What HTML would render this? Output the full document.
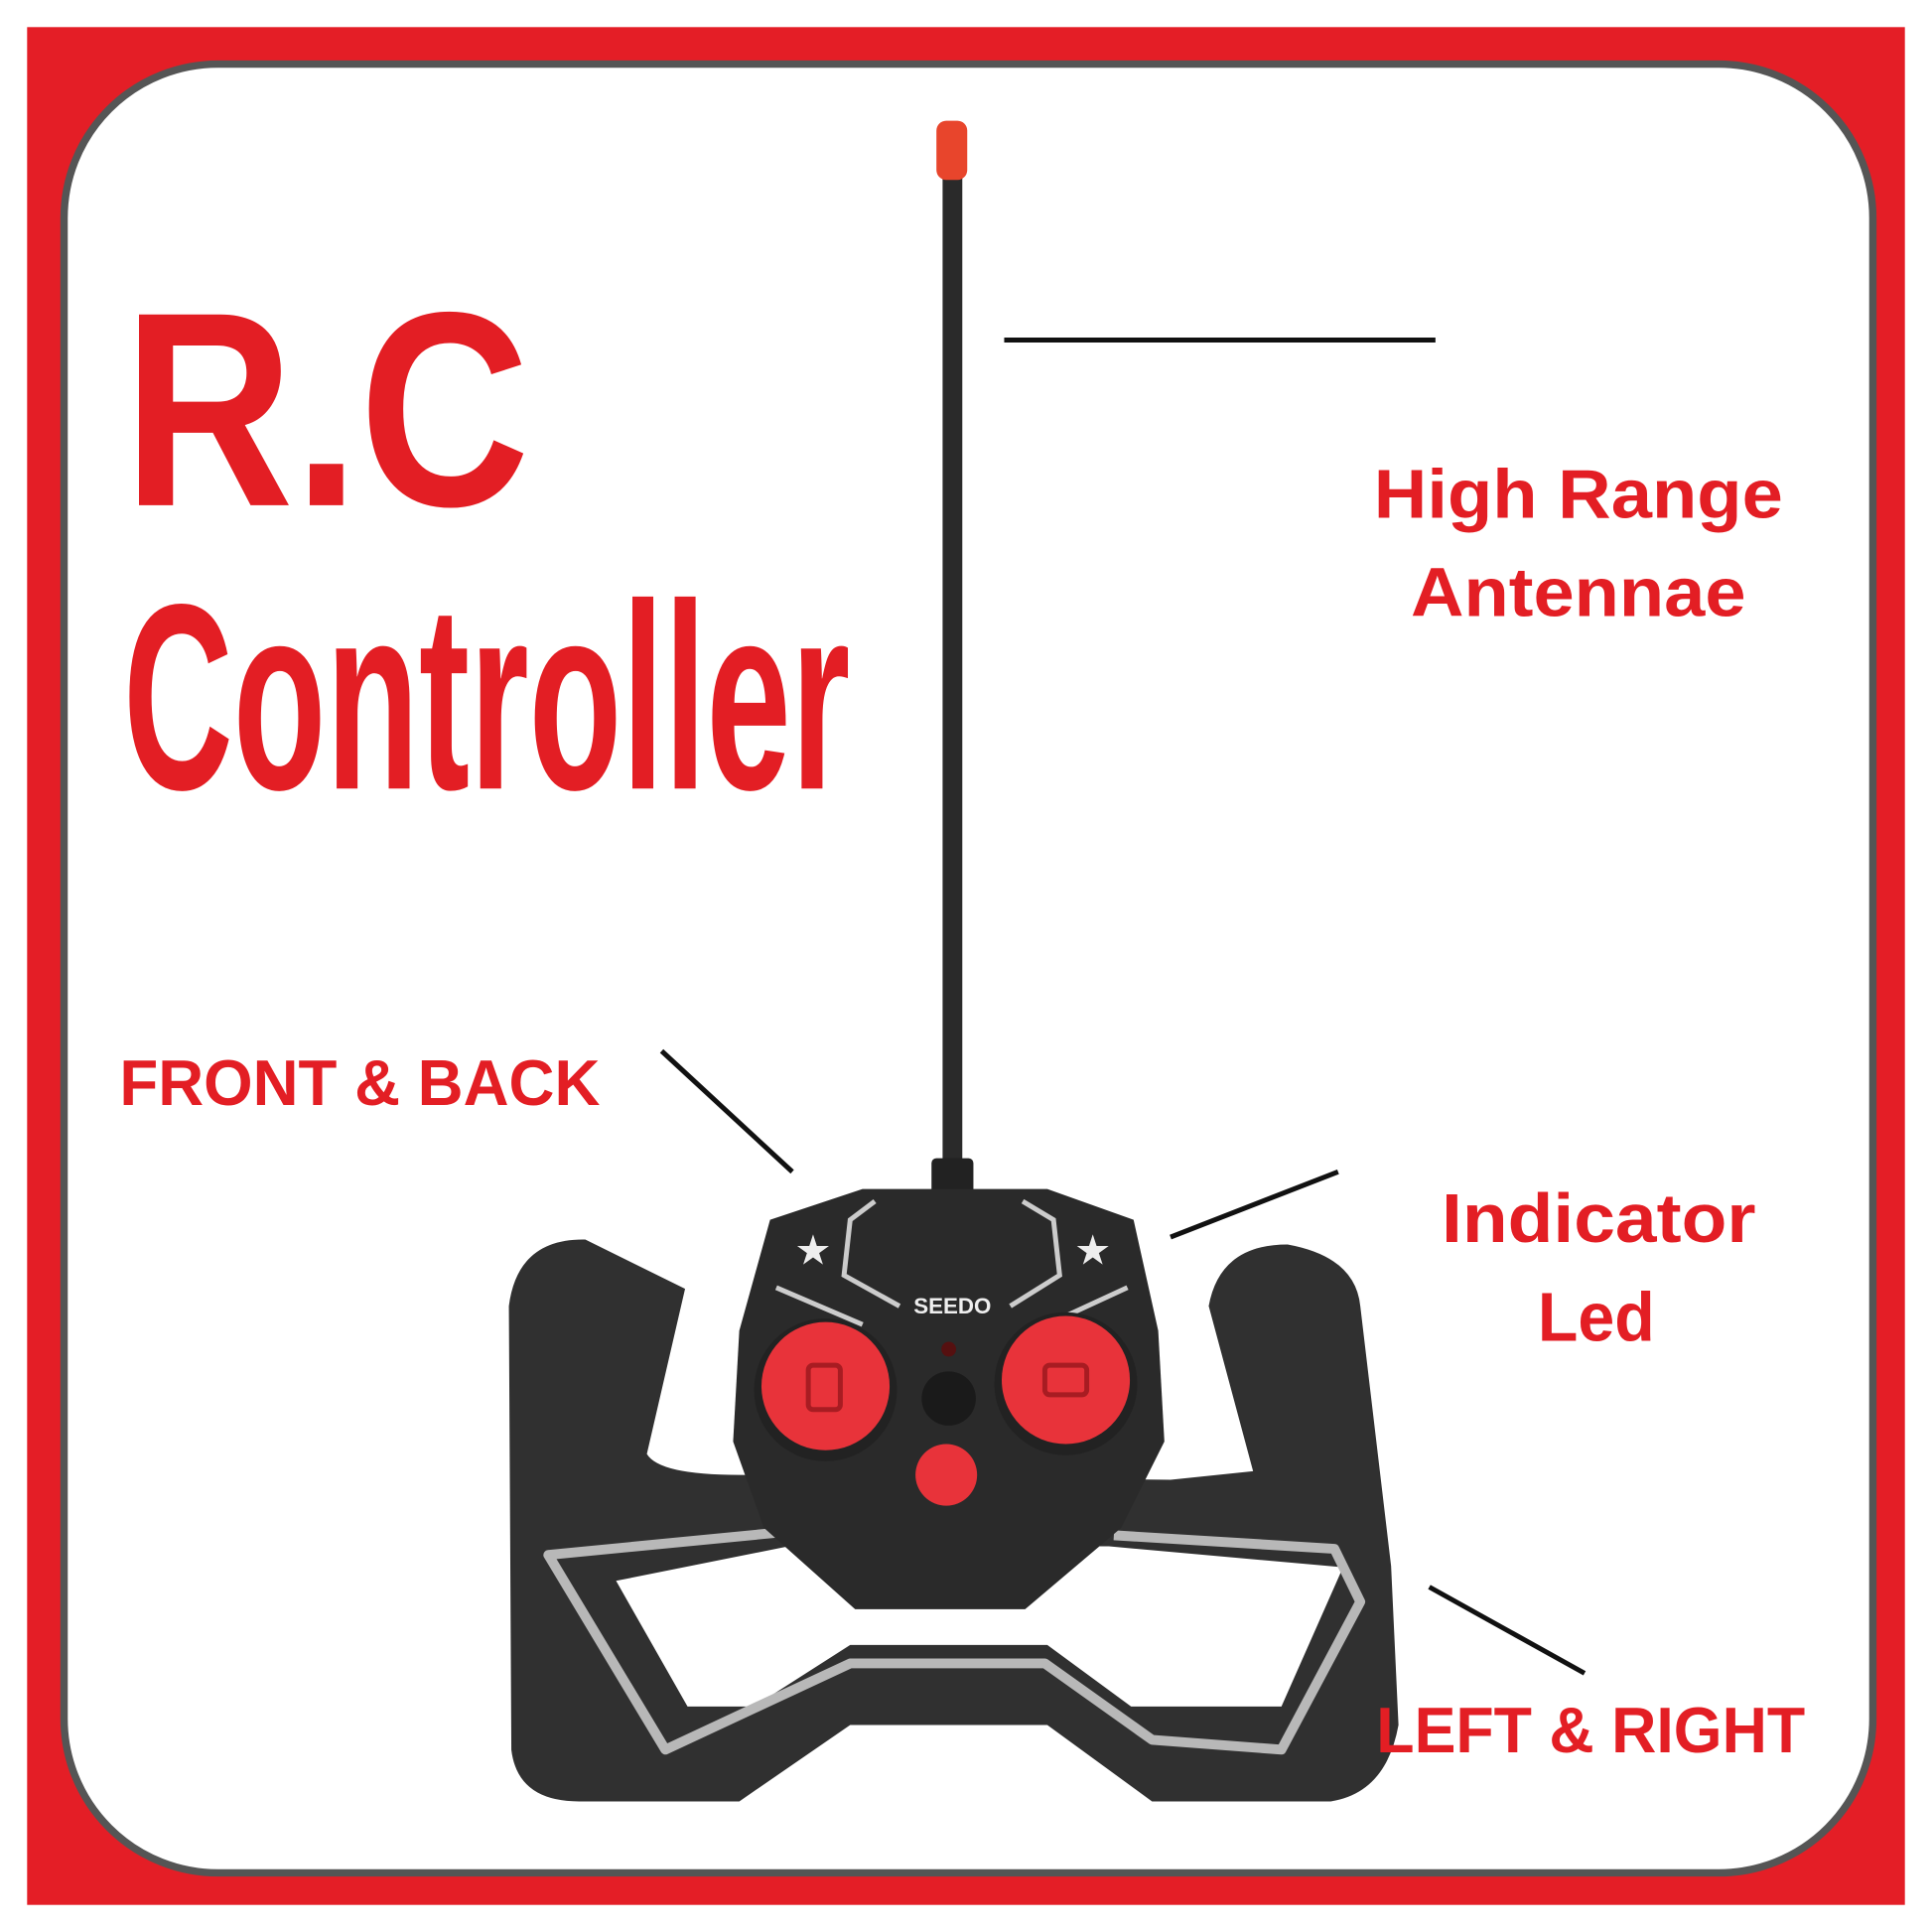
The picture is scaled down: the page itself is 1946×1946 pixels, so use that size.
<!DOCTYPE html>
<html><head><meta charset="utf-8"><style>
html,body{margin:0;padding:0;background:#fff;}
svg{display:block;}
text{font-family:"Liberation Sans",sans-serif;font-weight:bold;fill:#e31e24;}
</style></head><body>
<svg width="1946" height="1946" viewBox="0 0 1568 1568" xmlns="http://www.w3.org/2000/svg">
<rect x="0" y="0" width="1568" height="1568" fill="#fff"/>
<rect x="22" y="22" width="1524" height="1524" fill="#e41e26"/>
<rect x="52" y="52" width="1468" height="1468" rx="125" fill="#fff" stroke="#555" stroke-width="6"/>

<g stroke="#111" stroke-width="4">
<line x1="815" y1="276" x2="1165" y2="276"/>
<line x1="537" y1="853" x2="643" y2="951"/>
<line x1="950" y1="1004" x2="1086" y2="951"/>
<line x1="1160" y1="1288" x2="1286" y2="1358"/>
</g>

<!-- antenna -->
<rect x="765" y="140" width="16" height="810" fill="#2a2a2a"/>
<rect x="760" y="98" width="25" height="48" rx="8" fill="#e8452c"/>
<rect x="756" y="940" width="34" height="30" rx="4" fill="#222"/>

<!-- grips + arms + frame -->
<path fill-rule="evenodd" fill="#303030" d="M413,1060 Q420,1005 475,1006 L556,1046 L525,1180 Q535,1197 600,1197 L950,1201 L1017,1194 L981,1060 Q990,1010 1045,1010 Q1100,1020 1104,1060 L1129,1271 L1135,1400 Q1125,1455 1080,1462 L935,1462 L850,1400 L690,1400 L600,1462 L470,1462 Q420,1462 415,1420 Z M500,1283 L558,1385 L612,1385 L690,1335 L850,1335 L918,1385 L1040,1385 L1090,1272 L900,1255 L640,1255 Z"/>
<path fill="none" stroke="#b8b8b8" stroke-width="8" stroke-linejoin="round" d="M640,1243 L445,1262 L540,1420 L690,1350 L848,1350 L935,1412 L1040,1420 L1104,1300 L1083,1257 L904,1246"/>

<!-- body -->
<path fill="#2a2a2a" d="M625,990 L700,965 L850,965 L920,990 L940,1080 L945,1170 L910,1240 L832,1306 L694,1306 L620,1240 L595,1170 L600,1080 Z"/>
<path fill="none" stroke="#ccc" stroke-width="4" d="M710,975 L690,990 L685,1035 L730,1060 M830,975 L855,990 L860,1035 L820,1060 M630,1045 L700,1075 M915,1045 L850,1075"/>
<text x="773" y="1066" font-size="18" text-anchor="middle" style="fill:#eee">SEEDO</text>
<text x="660" y="1025" font-size="30" text-anchor="middle" style="fill:#eee">★</text>
<text x="887" y="1025" font-size="30" text-anchor="middle" style="fill:#eee">★</text>
<circle cx="770" cy="1095" r="6" fill="#551010"/>
<circle cx="670" cy="1128" r="58" fill="#222"/>
<circle cx="670" cy="1125" r="52" fill="#e8333a"/>
<rect x="656" y="1108" width="26" height="36" rx="4" fill="none" stroke="#a81c22" stroke-width="4"/>
<circle cx="865" cy="1123" r="58" fill="#222"/>
<circle cx="865" cy="1120" r="52" fill="#e8333a"/>
<rect x="848" y="1108" width="34" height="24" rx="4" fill="none" stroke="#a81c22" stroke-width="4"/>
<circle cx="770" cy="1135" r="22" fill="#1a1a1a"/>
<circle cx="768" cy="1197" r="25" fill="#e8333a"/>

<text x="100" y="410" font-size="225" textLength="330" lengthAdjust="spacingAndGlyphs">R.C</text>
<text x="100" y="640" font-size="215" textLength="590" lengthAdjust="spacingAndGlyphs">Controller</text>
<text x="1115" y="420" font-size="56" textLength="332" lengthAdjust="spacingAndGlyphs">High Range</text>
<text x="1145" y="500" font-size="56" textLength="272" lengthAdjust="spacingAndGlyphs">Antennae</text>
<text x="97" y="897" font-size="52" textLength="390" lengthAdjust="spacingAndGlyphs">FRONT &amp; BACK</text>
<text x="1170" y="1008" font-size="56" textLength="255" lengthAdjust="spacingAndGlyphs">Indicator</text>
<text x="1248" y="1088" font-size="56" textLength="95" lengthAdjust="spacingAndGlyphs">Led</text>
<text x="1117" y="1422" font-size="52" textLength="348" lengthAdjust="spacingAndGlyphs">LEFT &amp; RIGHT</text>
</svg>
</body></html>
